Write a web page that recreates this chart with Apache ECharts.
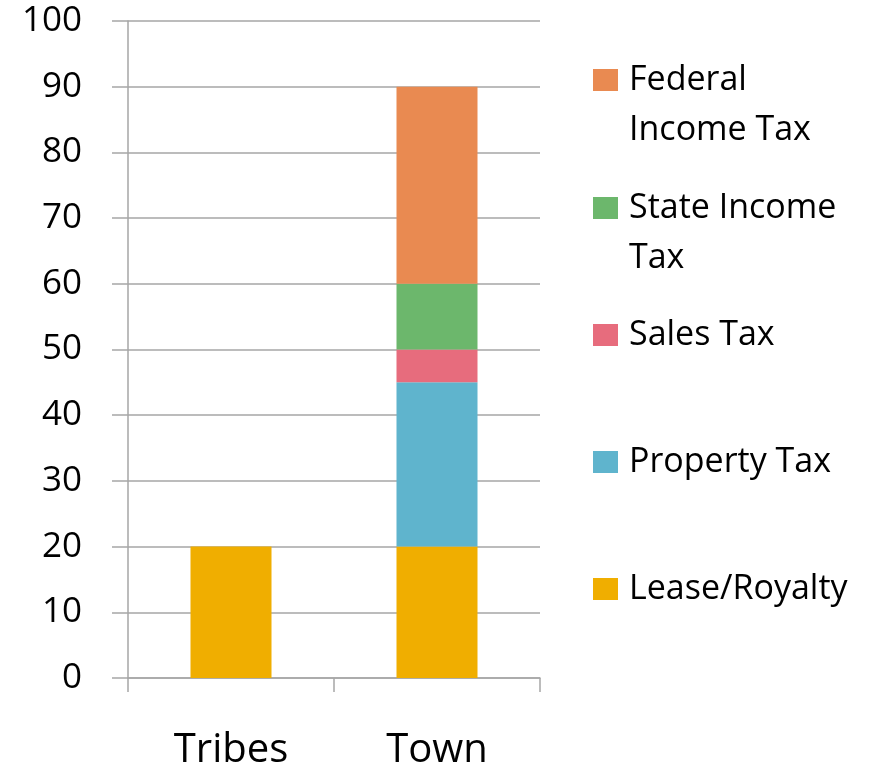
<!DOCTYPE html>
<html><head><meta charset="utf-8">
<script src="https://cdn.jsdelivr.net/npm/echarts@6/dist/echarts.min.js"></script>
<style>html,body{margin:0;padding:0;background:#fff}#c{width:874px;height:771px}</style>
</head><body><div id="c"></div>
<script>
var categories = ['Tribes', 'Town'];
var leaseRoyalty = [20, 20];
var propertyTax = [0, 25];
var salesTax = [0, 5];
var stateIncomeTax = [0, 10];
var federalIncomeTax = [0, 30];
var yTicks = [0, 100, 10];

var FONT = 'Open Sans';
var seriesDefs = [
  {name: 'Lease/Royalty', label: 'Lease/Royalty', data: leaseRoyalty, color: '#F0AE00'},
  {name: 'Property Tax', label: 'Property Tax', data: propertyTax, color: '#5FB4CD'},
  {name: 'Sales Tax', label: 'Sales Tax', data: salesTax, color: '#E76C7D'},
  {name: 'State Income Tax', label: 'State Income\nTax', data: stateIncomeTax, color: '#6CB76C'},
  {name: 'Federal Income Tax', label: 'Federal\nIncome Tax', data: federalIncomeTax, color: '#E98A51'}
];
var legendCenters = [589, 462, 335, 208, 80];
var legends = seriesDefs.map(function (s, i) {
  var lines = s.label.split('\n');
  var two = lines.length > 1;
  return {
    left: 593, top: legendCenters[i] - (two ? 75 : 25), orient: 'vertical',
    padding: 0,
    itemWidth: 25, itemHeight: 22, itemGap: 0,
    icon: 'rect', selectedMode: false,
    data: [s.name],
    formatter: function () {
      var parts = lines.map(function (l) { return '{t|' + l + '}'; });
      if (two) parts.unshift('{t| }');
      return parts.join('\n');
    },
    textStyle: {fontFamily: FONT, fontSize: 34, color: '#000', lineHeight: 50,
      rich: {t: {fontFamily: FONT, fontSize: 34, color: '#000', lineHeight: 50, padding: [0, 0, 0, 6]}}}
  };
});
var option = {
  animation: false,
  backgroundColor: '#fff',
  grid: {left: 128, right: 334, top: 21, bottom: 93},
  legend: legends,
  xAxis: {
    type: 'category', data: categories,
    axisLine: {lineStyle: {color: '#A6A6A6', width: 1.5}},
    axisTick: {show: true, length: 14, lineStyle: {color: '#A6A6A6', width: 1.5}},
    axisLabel: {fontFamily: FONT, fontSize: 40, color: '#000', margin: 53}
  },
  yAxis: {
    type: 'value', min: yTicks[0], max: yTicks[1], interval: yTicks[2],
    axisLine: {show: true, lineStyle: {color: '#A6A6A6', width: 1.5}},
    axisTick: {show: true, length: 16, lineStyle: {color: '#A6A6A6', width: 1.5}},
    splitLine: {lineStyle: {color: '#A6A6A6', width: 1.5}},
    axisLabel: {fontFamily: FONT, fontSize: 35, color: '#000', margin: 46}
  },
  series: seriesDefs.map(function (s) {
    return {name: s.name, type: 'bar', stack: 'total', barWidth: 81,
      data: s.data, itemStyle: {color: s.color}};
  })
};
echarts.init(document.getElementById('c')).setOption(option);
</script></body></html>
